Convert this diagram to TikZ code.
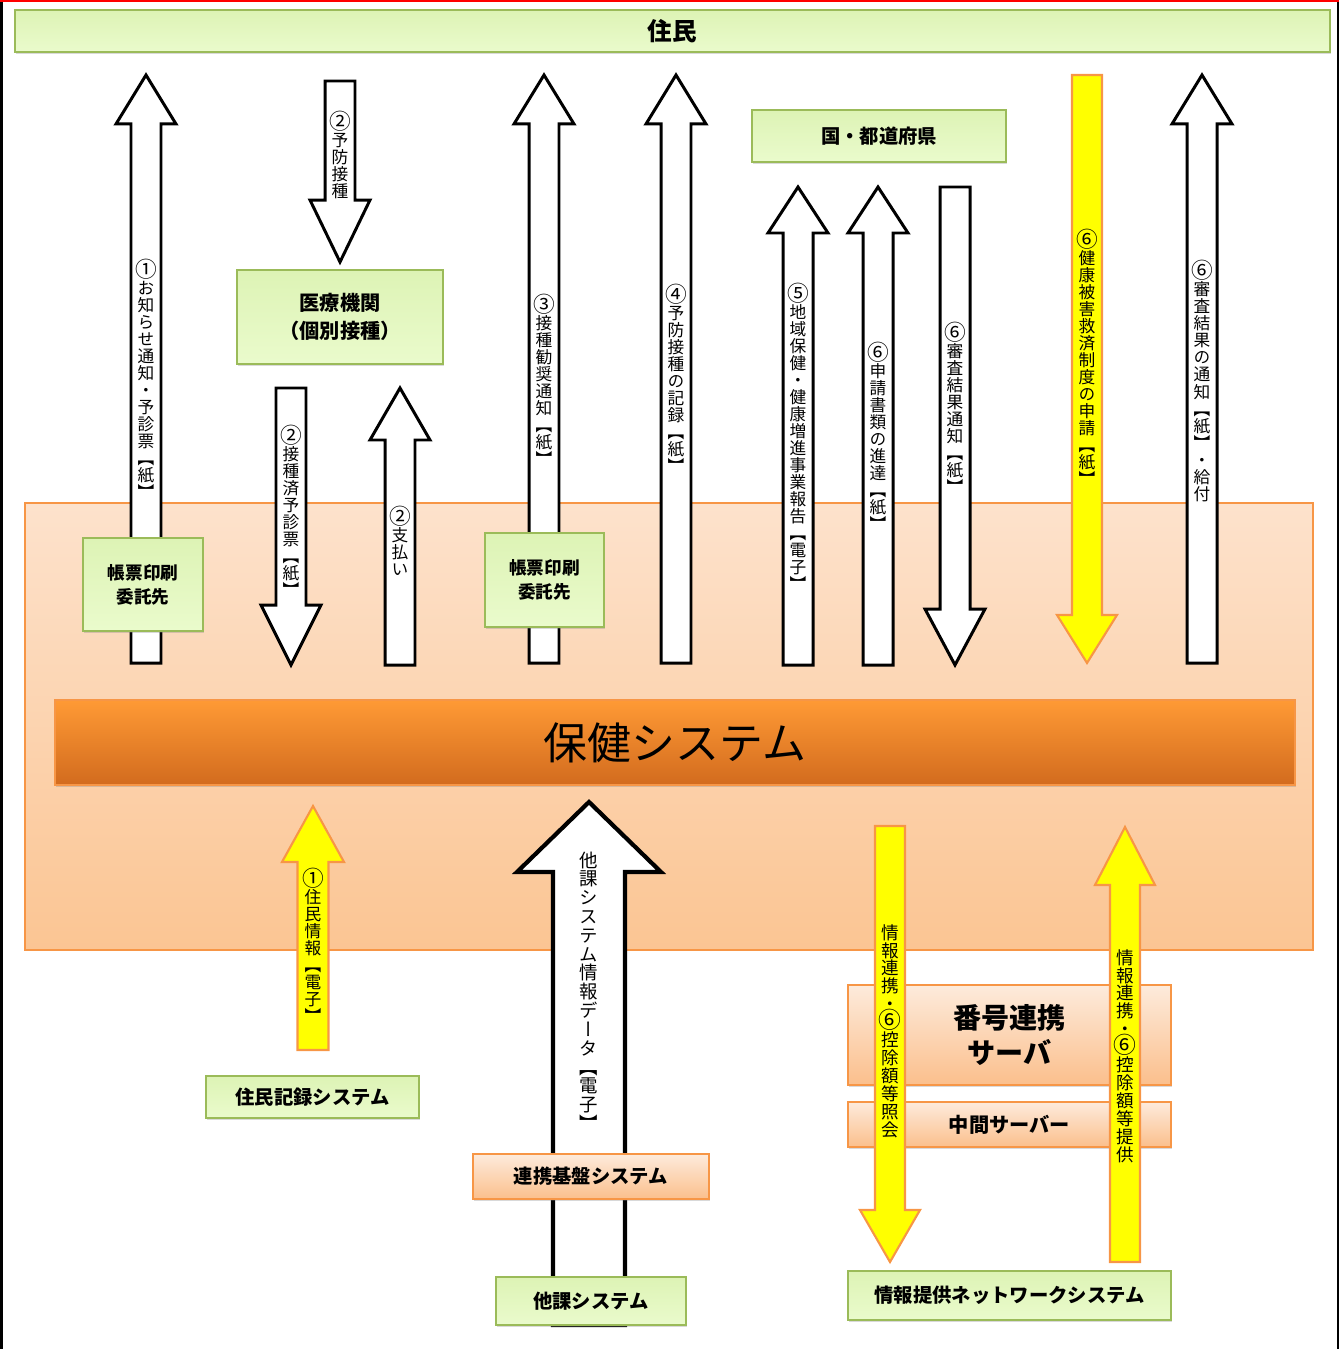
\documentclass[tikz,border=0pt]{standalone}
\usepackage{fontspec}
\setmainfont{Noto Sans CJK JP}
\newfontfamily\vjp[RawFeature=+vert]{Noto Sans CJK JP}
\usetikzlibrary{calc}
\usetikzlibrary{shadows}

\definecolor{boxgreen}{HTML}{9BBB59}
\definecolor{greentop}{HTML}{DDF3B5}
\definecolor{greenbot}{HTML}{EAFBCC}
\definecolor{boxorange}{HTML}{F79646}
\definecolor{peachtop}{HTML}{FDE2CC}
\definecolor{peachbot}{HTML}{FBC593}
\definecolor{litetop}{HTML}{FDEBDC}
\definecolor{litebot}{HTML}{FBBF8C}
\definecolor{bartop}{HTML}{FF9A35}
\definecolor{barbot}{HTML}{D26B1E}
\definecolor{arrowyellow}{HTML}{FFFF00}

% stacked (tategaki) text, circled numbers a bit larger
\newcommand\vtxt[1]{\vbox{\baselineskip=1.02em\lineskiplimit=-20pt\lineskip=0pt\vtxtloop#1\relax}}
\def\vtxtloop#1{\ifx#1\relax\else
  \hbox to 1em{\hss\ifnum`#1>"245F \ifnum`#1<"2474 \scalebox{1.3}{#1}\else#1\fi\else#1\fi\hss}%
  \expandafter\vtxtloop\fi}

% block arrow: [half shaft]{style}{tail}{tip}{head length}
\newcommand\blockarrow[5][0.3cm]{%
  \coordinate (hb) at ($(#4)!#5!(#3)$);
  \draw[#2] ($(#3)+(-#1,0pt)$) -- ($(hb)+(-#1,0pt)$) -- ($(hb)+({-2*#1},0pt)$) -- (#4)
    -- ($(hb)+({2*#1},0pt)$) -- ($(hb)+(#1,0pt)$) -- ($(#3)+(#1,0pt)$) -- cycle;}

\tikzset{
  gbox/.style={draw=boxgreen, line width=1.2pt, top color=greentop, bottom color=greenbot,
    align=center, inner sep=0pt, font=\bfseries\fontsize{11}{15}\selectfont,
    drop shadow={shadow xshift=0.6pt, shadow yshift=-1.4pt, opacity=0.3}},
  obox/.style={gbox, draw=boxorange, top color=litetop, bottom color=litebot},
  warrow/.style={draw=black, fill=white, line width=1.7pt, line join=miter},
  yarrow/.style={draw=boxorange, fill=arrowyellow, line width=1.2pt, line join=miter},
  vlabel/.style={inner sep=0pt, font=\vjp\fontsize{9.5}{9.5}\selectfont},
}

\begin{document}
\begin{tikzpicture}[x=0.02cm, y=-0.02cm]
  \useasboundingbox (0,0) rectangle (1339,1349);
  \fill[black] (0,0) rectangle (3,1349);
  \fill[black] (1336.5,0) rectangle (1339,1349);
  \fill[red] (0,0) rectangle (1339,2);

  \draw[draw=boxorange, line width=1pt, top color=peachtop, bottom color=peachbot] (25,503) rectangle (1313,950);

  \node[gbox, minimum width=26.3cm, minimum height=0.84cm, font=\bfseries\fontsize{14}{16}\selectfont] (jumin) at (672.5,31) {住民};
  \node[gbox, draw=boxorange, line width=1pt, top color=bartop, bottom color=barbot, minimum width=24.8cm, minimum height=1.7cm,
    font=\fontsize{25}{28}\selectfont] (hoken) at (675,742.5) {保健システム};

  \coordinate (a1s) at (146,663);  \coordinate (a1e) at (146,75);
  \coordinate (a2s) at (340,81);   \coordinate (a2e) at (340,262);
  \coordinate (a3s) at (291,388);  \coordinate (a3e) at (291,665);
  \coordinate (a4s) at (400,665);  \coordinate (a4e) at (400,388);
  \coordinate (a5s) at (544,663);  \coordinate (a5e) at (544,75);
  \coordinate (a6s) at (676,663);  \coordinate (a6e) at (676,75);
  \coordinate (a7s) at (798,665);  \coordinate (a7e) at (798,187);
  \coordinate (a8s) at (878,665);  \coordinate (a8e) at (878,187);
  \coordinate (a9s) at (955,187);  \coordinate (a9e) at (955,665);
  \coordinate (a10s) at (1087,75); \coordinate (a10e) at (1087,663);
  \coordinate (a11s) at (1202,663); \coordinate (a11e) at (1202,75);
  \coordinate (a12s) at (313,1050); \coordinate (a12e) at (313,806);
  \coordinate (a13s) at (589,1325); \coordinate (a13e) at (589,802);
  \coordinate (a14s) at (890,826);  \coordinate (a14e) at (890,1262);
  \coordinate (a15s) at (1125,1262); \coordinate (a15e) at (1125,827);

  \blockarrow{warrow}{a1s}{a1e}{0.98cm}
  \blockarrow{warrow}{a2s}{a2e}{1.24cm}
  \blockarrow{warrow}{a3s}{a3e}{1.2cm}
  \blockarrow{warrow}{a4s}{a4e}{1.04cm}
  \blockarrow{warrow}{a5s}{a5e}{0.98cm}
  \blockarrow{warrow}{a6s}{a6e}{0.98cm}
  \blockarrow{warrow}{a7s}{a7e}{0.92cm}
  \blockarrow{warrow}{a8s}{a8e}{0.92cm}
  \blockarrow{warrow}{a9s}{a9e}{1.12cm}
  \blockarrow{yarrow}{a10s}{a10e}{0.96cm}
  \blockarrow{warrow}{a11s}{a11e}{0.98cm}
  \blockarrow[0.31cm]{yarrow}{a12s}{a12e}{1.12cm}
  \blockarrow[0.72cm]{warrow, line width=2.4pt}{a13s}{a13e}{1.4cm}

  \node[gbox, minimum width=5.08cm, minimum height=1.04cm] (kuni) at (879,136) {国・都道府県};
  \node[gbox, minimum width=4.12cm, minimum height=1.88cm, font=\bfseries\fontsize{11.5}{15.5}\selectfont] (iryo) at (340,317) {医療機関\\（個別接種）};
  \node[gbox, minimum width=2.4cm, minimum height=1.86cm, font=\bfseries\fontsize{10}{13.5}\selectfont] (chohyo1) at (143,584.5) {帳票印刷\\委託先};
  \node[gbox, minimum width=2.38cm, minimum height=1.88cm, font=\bfseries\fontsize{10}{13.5}\selectfont] (chohyo2) at (544.5,580) {帳票印刷\\委託先};
  \node[gbox, minimum width=4.26cm, minimum height=0.84cm] (jukiroku) at (312.5,1097) {住民記録システム};
  \node[obox, minimum width=4.72cm, minimum height=0.9cm] (renkei) at (591,1176.5) {連携基盤システム};
  \node[gbox, minimum width=3.8cm, minimum height=0.96cm] (taka) at (591,1301) {他課システム};
  \node[obox, minimum width=6.46cm, minimum height=2.0cm, font=\bfseries\fontsize{16}{20}\selectfont] (bango) at (1009.5,1035) {番号連携\\サーバ};
  \node[obox, minimum width=6.46cm, minimum height=0.9cm, font=\bfseries\fontsize{11.5}{14}\selectfont] (chukan) at (1009.5,1124.5) {中間サーバー};
  \node[gbox, minimum width=6.46cm, minimum height=0.98cm] (network) at (1009.5,1295.5) {情報提供ネットワークシステム};

  \blockarrow{yarrow}{a14s}{a14e}{1.04cm}
  \blockarrow{yarrow}{a15s}{a15e}{1.16cm}

  \node[vlabel] (t1) at (146,379) {\vtxt{①お知らせ通知・予診票【紙】}};
  \node[vlabel] (t2) at (340,155) {\vtxt{②予防接種}};
  \node[vlabel] (t3) at (291,511) {\vtxt{②接種済予診票【紙】}};
  \node[vlabel] (t4) at (400,541) {\vtxt{②支払い}};
  \node[vlabel] (t5) at (544,380) {\vtxt{③接種勧奨通知【紙】}};
  \node[vlabel] (t6) at (676,378) {\vtxt{④予防接種の記録【紙】}};
  \node[vlabel] (t7) at (798,437) {\vtxt{⑤地域保健・健康増進事業報告【電子】}};
  \node[vlabel] (t8) at (878,436) {\vtxt{⑥申請書類の進達【紙】}};
  \node[vlabel] (t9) at (955,408) {\vtxt{⑥審査結果通知【紙】}};
  \node[vlabel] (t10) at (1087,357) {\vtxt{⑥健康被害救済制度の申請【紙】}};
  \node[vlabel] (t11) at (1202,381) {\vtxt{⑥審査結果の通知【紙】・給付}};
  \node[vlabel] (t12) at (313,945) {\vtxt{①住民情報【電子】}};
  \node[vlabel, font=\vjp\fontsize{10.5}{10.5}\selectfont] (t13) at (589,991) {\vtxt{他課システム情報データ【電子】}};
  \node[vlabel, font=\vjp\fontsize{10}{10}\selectfont] (t14) at (890,1031) {\vtxt{情報連携・⑥控除額等照会}};
  \node[vlabel, font=\vjp\fontsize{10}{10}\selectfont] (t15) at (1125,1056) {\vtxt{情報連携・⑥控除額等提供}};
\end{tikzpicture}
\end{document}
